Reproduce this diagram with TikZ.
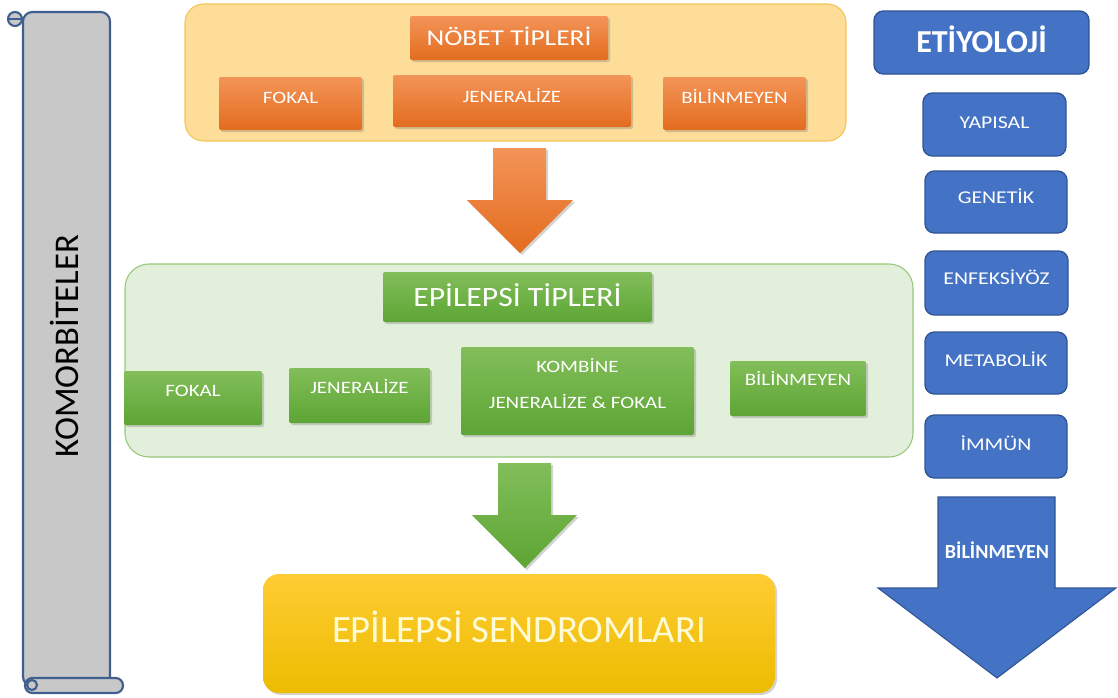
\documentclass[tikz,border=0pt]{standalone}
\usepackage{fontspec}
\setmainfont{Carlito}
\newfontfamily\widefont[FakeStretch=1.21]{Carlito}
\newfontfamily\midfont[FakeStretch=1.13]{Carlito}
\usetikzlibrary{shadows,calc}
\definecolor{scrollfill}{RGB}{200,200,200}
\definecolor{scrolledge}{RGB}{63,95,143}
\definecolor{opanel}{RGB}{253,221,152}
\definecolor{opanelE}{RGB}{242,196,84}
\definecolor{orT}{RGB}{243,148,88}
\definecolor{orB}{RGB}{227,108,30}
\definecolor{gpanel}{RGB}{226,239,218}
\definecolor{gpanelE}{RGB}{150,200,120}
\definecolor{grT}{RGB}{130,190,90}
\definecolor{grB}{RGB}{93,165,52}
\definecolor{yeT}{RGB}{255,204,51}
\definecolor{yeB}{RGB}{236,188,0}
\definecolor{yetext}{RGB}{255,251,213}
\definecolor{blu}{RGB}{68,114,196}
\definecolor{bluE}{RGB}{47,85,151}
\newcommand{\fs}[1]{\fontsize{#1pt}{#1pt}\selectfont}
\newcommand{\rz}[2]{\raisebox{#1pt}{#2}}
% \bx{name}{x1}{y1}{x2}{y2}{style}{text}
\newcommand{\bx}[7]{\node[inner sep=0pt,text depth=0pt,minimum width={(#4-#2)*0.75pt},minimum height={(#5-#3)*0.75pt},#6] (#1) at ({(#2+#4)/2},{(#3+#5)/2}) {#7};}
\begin{document}
\begin{tikzpicture}[x=0.75pt,y=-0.75pt,
  scrollst/.style={draw=scrolledge,line width=1.6pt,fill=scrollfill},
  shad/.style={drop shadow={opacity=0.35,shadow xshift=1.5pt,shadow yshift=-1.5pt}},
  obox/.style={top color=orT,bottom color=orB,rounded corners=1.5pt,shad,text=white},
  gbox/.style={top color=grT,bottom color=grB,rounded corners=1.5pt,shad,text=white},
  bbox/.style={fill=blu,draw=bluE,line width=1pt,rounded corners=7pt,text=white,font=\widefont\fs{13.5},text height=8.7pt},
  smalltxt/.style={font=\widefont\fs{13},text height=8.4pt}
]
\useasboundingbox (0,0) rectangle (1118,697);

% scroll (komorbiteler)
\draw[scrollst,rounded corners=7pt] (23,12) rectangle (110,686);
\draw[scrollst,rounded corners=5.5pt] (25,678) rectangle (123,693);
\draw[scrollst] (32,685) circle (5);
\draw[scrollst] (15,19) circle (7);
\draw[draw=scrolledge,line width=1.4pt] (8,19) -- (23,19);
\node[rotate=90,font=\fs{26},text=black] (komor) at (64,346) {KOMORBİTELER};

% top orange panel
\bx{nobetpanel}{185}{4}{846}{141}{fill=opanel,draw=opanelE,line width=0.8pt,rounded corners=14pt}{}
\bx{nobet}{410}{16}{608}{60}{obox,font=\widefont\fs{17},text height=11pt}{NÖBET TİPLERİ}
\bx{nfokal}{219}{77}{362}{130}{obox,smalltxt}{\rz{4}{FOKAL}}
\bx{njen}{393}{75}{631}{127}{obox,smalltxt}{\rz{3}{JENERALİZE}}
\bx{nbil}{663}{77}{806}{130}{obox,smalltxt}{\rz{4}{BİLİNMEYEN}}

% orange arrow
\shade[top color=orT,bottom color=orB,shad]
  (493,148) -- (546,148) -- (546,200) -- (573,200) -- (520,253) -- (467,200) -- (493,200) -- cycle;

% green panel
\bx{epipanel}{125}{264}{913}{457}{fill=gpanel,draw=gpanelE,line width=0.8pt,rounded corners=18pt}{}
\bx{epi}{383}{272}{652}{322}{gbox,font=\midfont\fs{21},text height=13.5pt}{EPİLEPSİ TİPLERİ}
\bx{efokal}{124}{371}{262}{425}{gbox,smalltxt}{\rz{5}{FOKAL}}
\bx{ejen}{289}{368}{430}{423}{gbox,smalltxt}{\rz{5.5}{JENERALİZE}}
\bx{ekomb}{461}{347}{694}{435}{gbox,smalltxt}{\raisebox{5pt}[0pt][0pt]{\begin{tabular}{@{}c@{}}KOMBİNE\\[12.5pt]JENERALİZE \& FOKAL\end{tabular}}}
\bx{ebil}{730}{361}{866}{416}{gbox,smalltxt}{\rz{6.5}{BİLİNMEYEN}}

% green arrow
\shade[top color=grT,bottom color=grB,shad]
  (498,463) -- (551,463) -- (551,515) -- (577,515) -- (525,568) -- (472,515) -- (498,515) -- cycle;

% syndromes
\bx{send}{263}{574}{775}{693}{top color=yeT,bottom color=yeB,rounded corners=12pt,shad,text=yetext,font=\fs{29},text height=18.7pt}{\rz{2.5}{EPİLEPSİ SENDROMLARI}}

% etiyoloji
\bx{etiy}{874}{11}{1089}{74}{bbox,font=\fs{24}\bfseries,text height=15.5pt}{ETİYOLOJİ}
\bx{yap}{923}{93}{1066}{156}{bbox}{\rz{1}{YAPISAL}}
\bx{gen}{925}{171}{1067}{233}{bbox}{\rz{3.5}{GENETİK}}
\bx{enf}{925}{251}{1068}{315}{bbox}{\rz{3}{ENFEKSİYÖZ}}
\bx{met}{925}{332}{1067}{394}{bbox}{\rz{1.5}{METABOLİK}}
\bx{imm}{925}{415}{1067}{478}{bbox}{\rz{1}{İMMÜN}}

% blue arrow
\draw[fill=blu,draw=bluE,line width=0.8pt]
  (938,497) -- (1055,497) -- (1055,588) -- (1116,588) -- (997,678) -- (878,588) -- (938,588) -- cycle;
\node[text=white,font=\fs{15}\bfseries] (abil) at (997,550) {BİLİNMEYEN};
\end{tikzpicture}
\end{document}
